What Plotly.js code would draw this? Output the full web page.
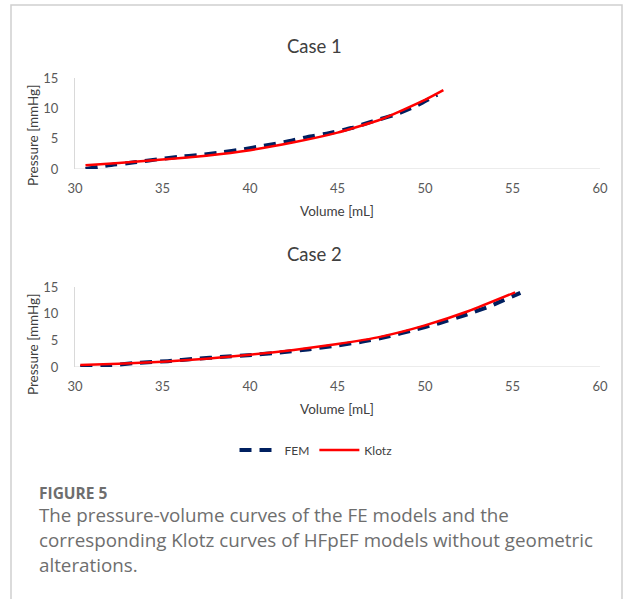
<!DOCTYPE html>
<html><head><meta charset="utf-8">
<script src="https://cdn.plot.ly/plotly-3.0.1.min.js"></script>
<style>html,body{margin:0;padding:0;background:#fff}#chart{width:624px;height:599px}</style>
</head><body><div id="chart"></div>
<script>
// Case 1
const case1FemV = [30.6, 31.9, 33.4, 34.85, 35.9, 37.1, 38.4, 39.5, 40.8, 42.0, 43.3, 44.5, 45.8, 47.0, 48.3, 49.5, 50.7];
const case1FemP = [0.0, 0.6, 1.1, 1.65, 2.0, 2.3, 2.75, 3.2, 3.85, 4.45, 5.3, 5.9, 6.75, 7.85, 8.95, 10.4, 12.25];
const case1KlotzV = [30.6, 32.5, 35, 37.5, 40, 42.5, 45, 47.5, 50, 51.05];
const case1KlotzP = [0.6, 1.0, 1.55, 2.2, 3.1, 4.4, 6.0, 8.2, 11.4, 13.0];
// Case 2
const case2FemV = [30.3, 31.9, 33.5, 35.3, 36.9, 38.5, 40.1, 41.7, 43.3, 44.9, 46.5, 48.0, 49.2, 50.8, 52.3, 53.7, 55.45];
const case2FemP = [0.0, 0.3, 0.75, 1.1, 1.55, 1.9, 2.25, 2.7, 3.3, 4.0, 4.8, 5.8, 6.8, 8.2, 9.75, 11.4, 13.9];
const case2KlotzV = [30.3, 32.5, 35, 37.5, 40, 42.5, 45, 47.5, 50, 52.5, 55.15];
const case2KlotzP = [0.37, 0.6, 1.0, 1.55, 2.3, 3.2, 4.3, 5.7, 7.8, 10.5, 14.0];
const xTicks = [30, 35, 40, 45, 50, 55, 60];
const yTicks = [0, 5, 10, 15];
const seriesNames = ['FEM', 'Klotz'];
const caseTitles = ['Case 1', 'Case 2'];
const xTitle = 'Volume [mL]';
const yTitle = 'Pressure [mmHg]';
const figLabel = 'FIGURE 5';
const captionLines = ['The pressure-volume curves of the FE models and the',
  'corresponding Klotz curves of HFpEF models without geometric',
  'alterations.'];

const W = 624, H = 599;
const px = x => x / W;
const py = y => 1 - y / H;
const femStyle = {color: '#002060', width: 4, dash: '12px,8px'};
const klotzStyle = {color: '#FF0000', width: 2.5};

const traces = [
  {x: case1FemV, y: case1FemP, mode: 'lines', line: femStyle, name: seriesNames[0], xaxis: 'x', yaxis: 'y'},
  {x: case1KlotzV, y: case1KlotzP, mode: 'lines', line: klotzStyle, name: seriesNames[1], xaxis: 'x', yaxis: 'y'},
  {x: case2FemV, y: case2FemP, mode: 'lines', line: femStyle, name: seriesNames[0], xaxis: 'x2', yaxis: 'y2', showlegend: false},
  {x: case2KlotzV, y: case2KlotzP, mode: 'lines', line: klotzStyle, name: seriesNames[1], xaxis: 'x2', yaxis: 'y2', showlegend: false}
];
traces.forEach(t => { t.line = Object.assign({}, t.line, {shape: 'spline', smoothing: 0.5}); t.hoverinfo = 'skip'; });

const tickFont = {family: 'Lato, "Open Sans", sans-serif', size: 13, color: '#595959'};
function xa() {
  return {domain: [px(75), px(600)], range: [30, 60], tickvals: xTicks, showgrid: false, zeroline: false,
    showline: false, ticks: '', tickfont: tickFont, automargin: false, fixedrange: true, ticklabelstandoff: 10};
}
function ya(dom) {
  return {domain: dom, range: [0, 15], tickvals: yTicks, showgrid: false, zeroline: false,
    showline: true, linecolor: '#d9d9d9', linewidth: 1, ticks: '', tickfont: tickFont, automargin: false, fixedrange: true, ticklabelstandoff: 13};
}

const annFont = {family: 'Lato, "Open Sans", sans-serif', color: '#404040'};
const capFont = '"Open Sans", "Noto Sans", sans-serif';
const annotations = [
  {text: caseTitles[0], x: px(314), y: py(46), font: Object.assign({size: 18.5}, annFont)},
  {text: caseTitles[1], x: px(314), y: py(254), font: Object.assign({size: 18.5}, annFont)},
  {text: xTitle, x: px(337), y: py(211), font: Object.assign({size: 13.5}, annFont)},
  {text: xTitle, x: px(337), y: py(409), font: Object.assign({size: 13.5}, annFont)},
  {text: yTitle, x: px(33), y: py(136), textangle: -90, font: Object.assign({size: 13.5}, annFont)},
  {text: yTitle, x: px(33), y: py(345), textangle: -90, font: Object.assign({size: 13.5}, annFont)},
  {text: '<b>' + figLabel + '</b>', x: px(37), y: py(493), xanchor: 'left', font: {family: capFont, size: 15.5, color: '#6e6e6e'}},
].map(a => Object.assign({xref: 'paper', yref: 'paper', showarrow: false, xanchor: 'center', yanchor: 'middle'}, a));
captionLines.forEach((t, i) => annotations.push({text: t, xref: 'paper', yref: 'paper', x: px(37), y: py(515 + 25 * i),
  xanchor: 'left', yanchor: 'middle', showarrow: false, font: {family: capFont, size: 18.8, color: '#6e6e6e'}}));

const shapes = [
  {type: 'line', xref: 'x', yref: 'y', x0: 30, x1: 60, y0: 0, y1: 0, line: {color: '#d9d9d9', width: 1}, layer: 'below'},
  {type: 'line', xref: 'x2', yref: 'y2', x0: 30, x1: 60, y0: 0, y1: 0, line: {color: '#d9d9d9', width: 1}, layer: 'below'},
  {type: 'path', xref: 'paper', yref: 'paper', path: `M ${px(11)} 0 L ${px(11)} ${py(5)} L ${px(622)} ${py(5)} L ${px(622)} 0`, line: {color: '#d0d0d0', width: 1.5}}
];

const layout = {
  width: W, height: H, margin: {l: 0, r: 0, t: 0, b: 0}, paper_bgcolor: '#fff', plot_bgcolor: 'rgba(0,0,0,0)',
  xaxis: Object.assign(xa(), {anchor: 'y'}), yaxis: Object.assign(ya([py(169), py(78)]), {anchor: 'x'}),
  xaxis2: Object.assign(xa(), {anchor: 'y2'}), yaxis2: Object.assign(ya([py(367), py(287)]), {anchor: 'x2'}),
  showlegend: true,
  legend: {orientation: 'h', x: px(316), xanchor: 'center', y: py(450), yanchor: 'middle', font: {family: 'Lato, sans-serif', size: 12, color: '#404040'}, itemwidth: 40, bgcolor: 'rgba(0,0,0,0)'},
  annotations: annotations, shapes: shapes
};
Plotly.newPlot('chart', traces, layout, {staticPlot: true, displayModeBar: false});
</script></body></html>
